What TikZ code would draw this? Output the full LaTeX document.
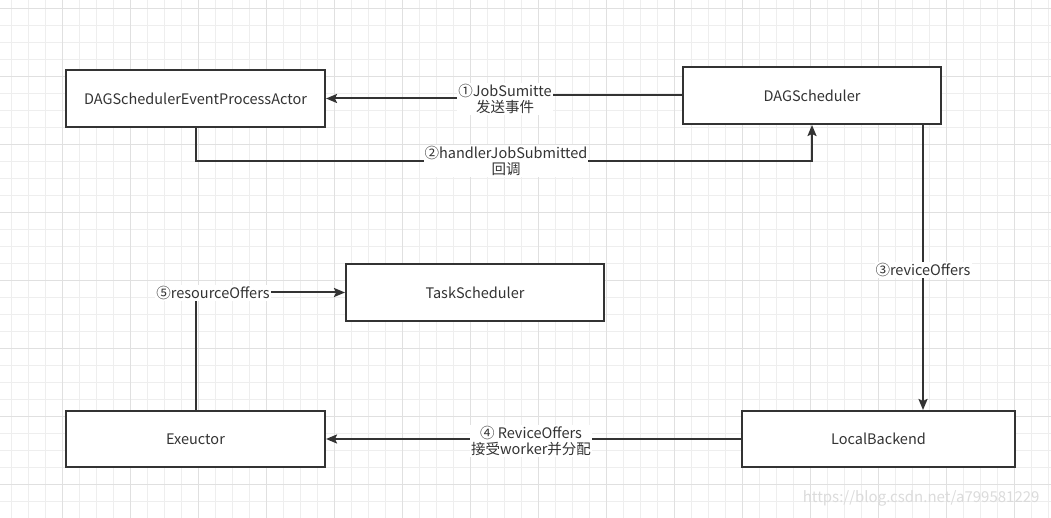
\documentclass[tikz,border=0pt]{standalone}
\usepackage{fontspec}
\setmainfont{Noto Sans CJK SC}
\usetikzlibrary{arrows.meta}
\definecolor{ink}{HTML}{333333}
\definecolor{gridminor}{HTML}{EEEEEE}
\definecolor{gridmajor}{HTML}{E0E0E0}
\tikzset{
  box/.style={draw=ink, line width=2pt, fill=white, text=ink, minimum width=#1, minimum height=57pt, inner sep=0pt, font=\fontsize{14.5}{16}\selectfont},
  box/.default=259pt,
  conn/.style={draw=ink, line width=2pt, -{Stealth[length=11pt,width=9pt,inset=2pt]}},
  lbl/.style={fill=white, text=ink, inner sep=1pt, align=center, font=\fontsize{14.5}{16.5}\selectfont},
  minorline/.style={gridminor, line width=1pt},
  majorline/.style={gridmajor, line width=1pt},
}
\begin{document}
\begin{tikzpicture}[x=1pt, y=-1pt]
\useasboundingbox (0,0) rectangle (1051,518);
\fill[white] (0,0) rectangle (1051,518);
% grid
\foreach \k in {0,...,61} {
  \pgfmathsetmacro{\gx}{11.5+17*\k}
  \draw[minorline] (\gx,0) -- (\gx,518);
}
\foreach \k in {0,...,30} {
  \pgfmathsetmacro{\gy}{8.3+17*\k}
  \draw[minorline] (0,\gy) -- (1051,\gy);
}
\foreach \k in {0,...,15} {
  \pgfmathsetmacro{\gx}{62.5+68*\k}
  \draw[majorline] (\gx,0) -- (\gx,518);
}
\foreach \k in {0,...,7} {
  \pgfmathsetmacro{\gy}{8.3+68*\k}
  \draw[majorline] (0,\gy) -- (1051,\gy);
}
% boxes
\node[box=259pt] (actor) at (195.5,98.5) {DAGSchedulerEventProcessActor};
\node[box=258pt] (dag) at (812,95.5) {DAGScheduler};
\node[box=258pt] (task) at (475,292.5) {TaskScheduler};
\node[box=259pt, minimum height=56pt] (exec) at (195.5,439) {Exeuctor};
\node[box=273pt, minimum height=56pt] (local) at (878.5,439) {LocalBackend};
% connectors
\coordinate (j1) at (505,95.5);
\draw[conn] (dag.west) -- (j1) -- (j1 |- actor.east) -- (actor.east);
\node[lbl] (l1) at (505,99) {①JobSumitte\\发送事件};
\draw[conn] (actor.south) -- ++(0,33) -| (dag.south);
\node[lbl] (l2) at (506,161) {②handlerJobSubmitted\\回调};
\coordinate (d3) at (923,0);
\draw[conn] (dag.south -| d3) -- (local.north -| d3);
\node[lbl] (l3) at (923,270) {③reviceOffers};
\draw[conn] (local.west) -- (exec.east);
\node[lbl] (l4) at (531,441) {④ ReviceOffers\\接受worker并分配};
\draw[conn] (exec.north) |- (task.west);
\node[lbl] (l5) at (213,293) {⑤resourceOffers};
% watermark
\node[text=black!14, font=\fontsize{15}{16}\selectfont, anchor=east] (wm) at (1043,498) {https://blog.csdn.net/a799581229};
\end{tikzpicture}
\end{document}
